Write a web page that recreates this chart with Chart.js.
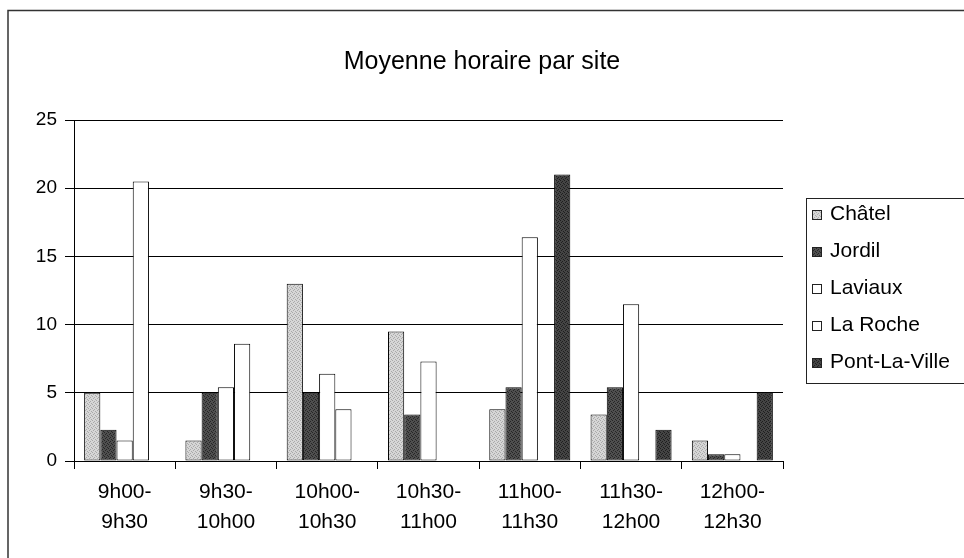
<!DOCTYPE html>
<html lang="fr">

<head>
    <meta charset="UTF-8">
    <title>Moyenne horaire par site</title>
    <style>
        body { margin: 0; background: #fff; }
    </style>
</head>

<body>

    <canvas id="myChart" width="964" height="558"></canvas>

    <script src="https://cdn.jsdelivr.net/npm/chart.js"></script>
    <script>
        // creneaux horaires (labels sur 2 lignes)
        const v_creneaux = [
            ['9h00-', '9h30'], ['9h30-', '10h00'], ['10h00-', '10h30'], ['10h30-', '11h00'],
            ['11h00-', '11h30'], ['11h30-', '12h00'], ['12h00-', '12h30']
        ];
        const v_sites = ['Châtel', 'Jordil', 'Laviaux', 'La Roche', 'Pont-La-Ville'];

        const v_chatel = [5.0, 1.5, 13.0, 9.5, 3.8, 3.4, 1.5];
        const v_jordil = [2.3, 5.0, 5.0, 3.4, 5.4, 5.4, 0.5];
        const v_laviaux = [1.5, 5.4, 6.4, 7.3, 16.4, 11.5, 0.5];
        const v_laroche = [20.5, 8.6, 3.8, 0, 0, 0, 0];
        const v_pont = [0, 0, 0, 0, 21.0, 2.3, 5.0];

        const v_yTicks = [0, 5, 10, 15, 20, 25];

        const v_titre = 'Moyenne horaire par site';
        const police = '"Liberation Sans", Arial, sans-serif';

        // petit motif pointille pour imiter le rendu imprime
        function stipple(base, dot) {
            const c = document.createElement('canvas');
            c.width = 4; c.height = 4;
            const g = c.getContext('2d');
            g.fillStyle = base;
            g.fillRect(0, 0, 4, 4);
            g.fillStyle = dot;
            [[0, 0], [2, 1], [1, 2], [3, 3]].forEach(p => g.fillRect(p[0], p[1], 1, 1));
            return g.createPattern(c, 'repeat');
        }

        const fills = [
            stipple('#d6d6d6', '#a9a9a9'),
            stipple('#4f4f4f', '#262626'),
            '#ffffff',
            '#ffffff',
            stipple('#444444', '#1e1e1e')
        ];
        const series = [v_chatel, v_jordil, v_laviaux, v_laroche, v_pont];

        // cadre exterieur, titre centre sur la page, legende encadree
        const cadrePlugin = {
            id: 'cadre',
            beforeDraw(chart) {
                const c = chart.ctx;
                c.save();
                c.strokeStyle = '#333';
                c.lineWidth = 1.5;
                c.beginPath();
                c.moveTo(8, 558);
                c.lineTo(8, 10.5);
                c.lineTo(964, 10.5);
                c.stroke();

                c.fillStyle = '#000';
                c.font = '25px ' + police;
                c.textAlign = 'center';
                c.textBaseline = 'middle';
                c.fillText(v_titre, 482, 62);
                c.restore();
            },
            afterDraw(chart) {
                const c = chart.ctx;
                c.save();
                c.strokeStyle = '#222';
                c.lineWidth = 1;
                c.strokeRect(806.5, 198.5, 170, 185);
                c.font = '21px ' + police;
                c.textBaseline = 'middle';
                chart.data.datasets.forEach((ds, i) => {
                    const y = 214 + i * 37;
                    c.fillStyle = ds.backgroundColor;
                    c.fillRect(812, y - 4, 10, 10);
                    c.strokeStyle = '#222';
                    c.strokeRect(812.5, y - 3.5, 9, 9);
                    c.fillStyle = '#000';
                    c.fillText(ds.label, 830, y);
                });
                c.restore();
            }
        };

        const ctx = document.getElementById('myChart');

        new Chart(ctx, {
            type: 'bar',
            data: {
                labels: v_creneaux,
                datasets: v_sites.map((s, i) => ({
                    label: s,
                    data: series[i],
                    backgroundColor: fills[i],
                    borderColor: '#000',
                    borderWidth: 1,
                    borderSkipped: false,
                    categoryPercentage: 0.8,
                    barPercentage: 1.0
                }))
            },
            options: {
                responsive: false,
                animation: false,
                layout: {
                    padding: { left: 0, right: 181, top: 120, bottom: 0 }
                },
                scales: {
                    x: {
                        afterFit(scale) { scale.height = 97; },
                        grid: {
                            drawOnChartArea: false,
                            tickLength: 8,
                            color: '#000',
                            offset: true
                        },
                        border: { color: '#000', width: 1 },
                        ticks: {
                            color: '#000',
                            padding: 9,
                            maxRotation: 0,
                            font: { family: police, size: 21, lineHeight: 1.4 }
                        }
                    },
                    y: {
                        min: 0,
                        max: 25,
                        afterFit(scale) { scale.width = 74; },
                        afterBuildTicks(scale) {
                            scale.ticks = v_yTicks.map(v => ({ value: v }));
                        },
                        grid: {
                            color: '#000',
                            lineWidth: 1,
                            tickLength: 9
                        },
                        border: { color: '#000', width: 1 },
                        ticks: {
                            color: '#000',
                            padding: 8,
                            font: { family: police, size: 19 }
                        }
                    }
                },
                plugins: {
                    legend: { display: false },
                    tooltip: { enabled: false },
                    title: { display: false }
                }
            },
            plugins: [cadrePlugin]
        });
    </script>
</body>

</html>
